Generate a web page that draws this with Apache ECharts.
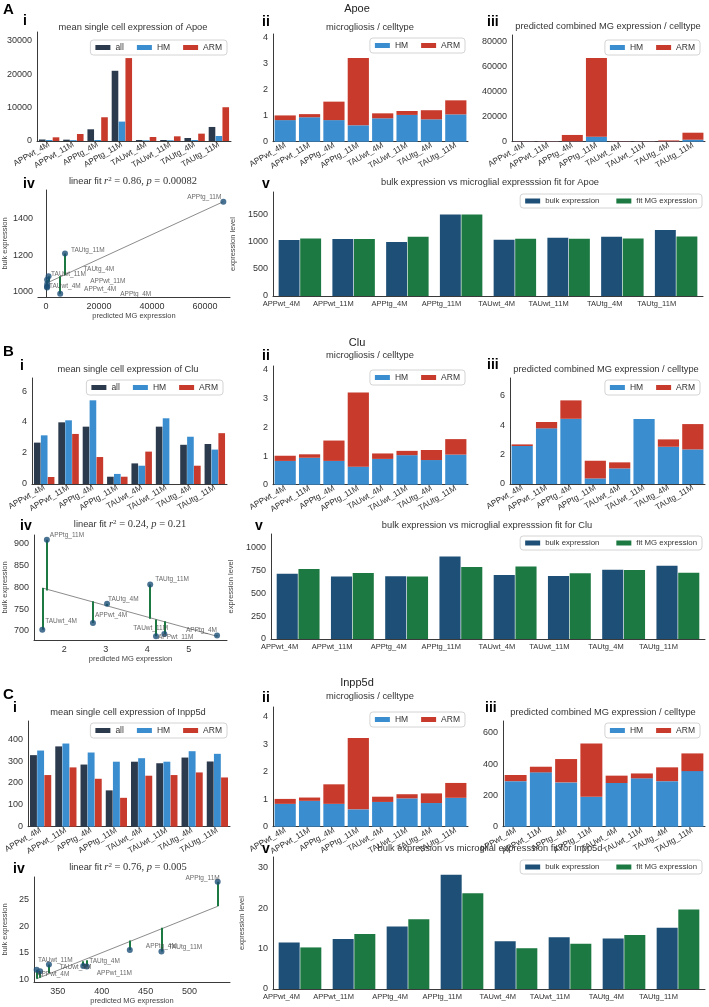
<!DOCTYPE html>
<html>
<head>
<meta charset="utf-8">
<script src="https://cdn.jsdelivr.net/npm/echarts@6/dist/echarts.min.js"></script>
<style>
  html, body { margin: 0; padding: 0; background: #fff; }
  #chart { width: 709px; height: 1007px; }
</style>
</head>
<body>
<div id="chart"></div>
<script>
const categories = ['APPwt_4M', 'APPwt_11M', 'APPtg_4M', 'APPtg_11M', 'TAUwt_4M', 'TAUwt_11M', 'TAUtg_4M', 'TAUtg_11M'];

// microgliosis / celltype (same in all three rows)
const microHM  = [0.83, 0.94, 0.83, 0.63, 0.90, 1.03, 0.86, 1.05];
const microARM = [0.18, 0.12, 0.71, 2.59, 0.19, 0.15, 0.35, 0.54];

// Apoe
const apoeAll     = [450, 400, 3500, 21000, 300, 300, 900, 4200];
const apoeHM      = [300, 250, 300, 5800, 200, 200, 300, 1500];
const apoeARM     = [1100, 2100, 7100, 24800, 1200, 1400, 2200, 10100];
const apoePredHM  = [250, 250, 250, 4000, 200, 250, 250, 1600];
const apoePredARM = [200, 250, 5150, 62900, 230, 210, 770, 5600];
const apoeBulk    = [1024, 1043, 990, 1494, 1030, 1067, 1085, 1210];
const apoeFit     = [1055, 1045, 1085, 1494, 1049, 1049, 1055, 1091];

// Clu
const cluAll     = [2.67, 3.98, 3.70, 0.47, 1.33, 3.70, 2.53, 2.58];
const cluHM      = [3.14, 4.11, 5.40, 0.65, 1.18, 4.24, 3.05, 2.22];
const cluARM     = [0.45, 3.23, 1.74, 0.47, 2.09, 0, 1.18, 3.28];
const cluPredHM  = [2.58, 3.78, 4.43, 0.38, 1.06, 4.41, 2.53, 2.35];
const cluPredARM = [0.11, 0.43, 1.25, 1.20, 0.41, 0, 0.50, 1.72];
const cluBulk    = [718, 688, 690, 908, 703, 693, 762, 806];
const cluFit     = [768, 726, 688, 792, 798, 722, 757, 728];

// Inpp5d
const inppAll     = [327, 367, 284, 166, 297, 290, 316, 298];
const inppHM      = [348, 380, 339, 297, 313, 297, 345, 333];
const inppARM     = [236, 271, 219, 132, 233, 236, 248, 225];
const inppPredHM  = [291, 347, 283, 191, 279, 309, 291, 355];
const inppPredARM = [39, 36, 149, 341, 47, 31, 88, 113];
const inppBulk    = [11.5, 12.4, 15.5, 28.3, 11.8, 12.8, 12.5, 15.2];
const inppFit     = [10.3, 13.6, 17.3, 23.7, 10.1, 11.2, 13.4, 19.7];

// label nudges for the scatter panels (pixels, like adjustText did)
const apoeLabelShift = [[31, 2], [37, -3], [54, 0], [4, -4], [-4, 0], [-2, -5], [29, -7], [0, -3]];
const cluLabelShift  = [[-4, -8], [-4, 1], [6, -5], [-3, -4], [-3, -8], [-37, -6], [-5, -5], [-1, -5]];
const inppLabelShift = [[-9, 3], [4, 7], [10, -4], [8, -4], [17, -3], [-17, -4], [0, -5], [1, -4]];

const W = 709;
const FONT = '"Liberation Sans", Arial, sans-serif';
const C_ALL = '#2b3a4d', C_HM = '#3a8dcf', C_ARM = '#c73a2c';
const C_BULK = '#1d4f77', C_FIT = '#1c7941', C_LINE = '#8c8c8c';
const axisLineStyle = {color: '#3a3a3a', width: 1};

const titles = [], legends = [], grids = [], xAxes = [], yAxes = [], series = [];

function stepFmt(step) {
  return function (v) {
    const k = v / step;
    return Math.abs(k - Math.round(k)) < 1e-6 ? String(Math.round(k) * step) : '';
  };
}

function addText(text, x, y, kind, rich) {
  const st = {
    big:   {fontSize: 15, fontWeight: 'bold', color: '#000'},
    num:   {fontSize: 14, fontWeight: 'bold', color: '#000'},
    gene:  {fontSize: 11, fontWeight: 'normal', color: '#222'},
    title: {fontSize: 9.3, fontWeight: 'normal', color: '#333'}
  }[kind];
  const t = {text: text, left: x, top: y, padding: 0,
    textStyle: Object.assign({fontFamily: FONT}, st)};
  if (kind === 'gene' || kind === 'title') t.textAlign = 'center';
  if (rich) t.textStyle.rich = rich;
  titles.push(t);
}

const SERIF = '"Liberation Serif", serif';
const fitRich = {
  it:  {fontFamily: SERIF, fontStyle: 'italic', fontWeight: 'normal', fontSize: 10.5, color: '#333'},
  rm:  {fontFamily: SERIF, fontWeight: 'normal', fontSize: 10.5, color: '#333'},
  sup: {fontFamily: SERIF, fontWeight: 'normal', fontSize: 7, color: '#333', verticalAlign: 'top'}
};
function fitTitle(r2, p) {
  return 'linear fit {it|r}{sup|2}{rm| = ' + r2 + ', }{it|p}{rm| = ' + p + '}';
}

function addGrid(b) {
  grids.push({left: b.l, top: b.t, width: b.w, height: b.h});
  return grids.length - 1;
}

function catAxis(gi, rotate) {
  xAxes.push({
    type: 'category', gridIndex: gi, data: categories,
    axisLine: {show: true, lineStyle: axisLineStyle}, axisTick: {show: false}, splitLine: {show: false},
    axisLabel: rotate
      ? {interval: 0, rotate: 30, fontSize: 8.2, color: '#333', fontFamily: FONT, margin: 3}
      : {interval: 0, align: 'right', fontSize: 7.5, color: '#333', fontFamily: FONT, margin: 4}
  });
  return xAxes.length - 1;
}

function valAxis(list, gi, min, max, step, extra) {
  const ax = Object.assign({
    type: 'value', gridIndex: gi, min: min, max: max,
    axisLine: {show: true, lineStyle: axisLineStyle}, axisTick: {show: false}, splitLine: {show: false},
    axisLabel: {fontSize: 9, color: '#333', fontFamily: FONT, margin: 5, formatter: stepFmt(step)},
    nameTextStyle: {fontSize: 7.5, color: '#444', fontFamily: FONT}
  }, extra || {});
  list.push(ax);
  return list.length - 1;
}

function addLegend(names, right, top, fs, gap) {
  legends.push({
    data: names, right: W - right, top: top, orient: 'horizontal', selectedMode: false,
    icon: 'rect', itemWidth: 15, itemHeight: 5, itemGap: gap,
    textStyle: {fontSize: fs, color: '#333', fontFamily: FONT},
    borderColor: '#d4d4d4', borderWidth: 1, borderRadius: 3, padding: [3, 5]
  });
}

function groupedPanel(b, vals, yMax, step, lg) {
  const gi = addGrid(b);
  const xi = catAxis(gi, true);
  const yi = valAxis(yAxes, gi, 0, yMax, step, {interval: step});
  [['all', C_ALL], ['HM', C_HM], ['ARM', C_ARM]].forEach(function (s, k) {
    series.push({type: 'bar', name: s[0], xAxisIndex: xi, yAxisIndex: yi, data: vals[k],
      itemStyle: {color: s[1]}, barGap: '4%', barCategoryGap: '16%'});
  });
  addLegend(['all', 'HM', 'ARM'], lg[0], lg[1], 8.5, 13);
}

function stackPanel(b, hm, arm, yMax, step, lg) {
  const gi = addGrid(b);
  const xi = catAxis(gi, true);
  const yi = valAxis(yAxes, gi, 0, yMax, step, {interval: step});
  series.push({type: 'bar', name: 'HM', stack: 's' + gi, xAxisIndex: xi, yAxisIndex: yi, data: hm,
    itemStyle: {color: C_HM}, barCategoryGap: '13%'});
  series.push({type: 'bar', name: 'ARM', stack: 's' + gi, xAxisIndex: xi, yAxisIndex: yi, data: arm,
    itemStyle: {color: C_ARM}, barCategoryGap: '13%'});
  addLegend(['HM', 'ARM'], lg[0], lg[1], 8.5, 13);
}

function fitPanel(b, predHM, predARM, bulk, fit, shift, xr, xstep, yr, ystep, xsplit, ysplit) {
  const gi = addGrid(b);
  const xs = predHM.map(function (v, i) { return v + predARM[i]; });
  const xi = valAxis(xAxes, gi, xr[0], xr[1], xstep, {splitNumber: xsplit,
    name: 'predicted MG expression', nameLocation: 'middle', nameGap: 15});
  const yi = valAxis(yAxes, gi, yr[0], yr[1], ystep, {splitNumber: ysplit,
    name: 'bulk expression', nameLocation: 'middle', nameGap: 25});
  let imin = 0, imax = 0;
  xs.forEach(function (v, i) { if (v < xs[imin]) imin = i; if (v > xs[imax]) imax = i; });
  series.push({type: 'line', xAxisIndex: xi, yAxisIndex: yi, symbol: 'none', silent: true,
    data: [[xs[imin], fit[imin]], [xs[imax], fit[imax]]],
    lineStyle: {color: C_LINE, width: 1}, z: 2});
  series.push({type: 'lines', coordinateSystem: 'cartesian2d', xAxisIndex: xi, yAxisIndex: yi, silent: true,
    data: categories.map(function (c, i) { return {coords: [[xs[i], bulk[i]], [xs[i], fit[i]]]}; }),
    lineStyle: {color: C_FIT, width: 2, opacity: 1}, z: 3});
  series.push({type: 'scatter', xAxisIndex: xi, yAxisIndex: yi, symbolSize: 6, z: 4,
    data: categories.map(function (c, i) {
      return {name: c, value: [xs[i], bulk[i]],
        label: {position: i === imax ? 'left' : 'right', offset: shift[i]}};
    }),
    itemStyle: {color: C_BULK},
    label: {show: true, formatter: '{b}', fontSize: 6.5, color: '#444', fontFamily: FONT, distance: 3}});
}

function compPanel(b, bulk, fit, yMax, step, lg) {
  const gi = addGrid(b);
  const xi = catAxis(gi, false);
  const yi = valAxis(yAxes, gi, 0, yMax, step, {interval: step,
    name: 'expression level', nameLocation: 'middle', nameGap: 27});
  series.push({type: 'bar', name: 'bulk expression', xAxisIndex: xi, yAxisIndex: yi, data: bulk,
    itemStyle: {color: C_BULK}, barGap: '3%', barCategoryGap: '21%'});
  series.push({type: 'bar', name: 'fit MG expression', xAxisIndex: xi, yAxisIndex: yi, data: fit,
    itemStyle: {color: C_FIT}, barGap: '3%', barCategoryGap: '21%'});
  addLegend(['bulk expression', 'fit MG expression'], lg[0], lg[1], 7.8, 17);
}

// ---- row A : Apoe
addText('A', 3, 2, 'big');
addText('Apoe', 357, 3, 'gene');
addText('i', 23, 14, 'num');
addText('mean single cell expression of Apoe', 133, 23, 'title');
addText('ii', 262, 15, 'num');
addText('microgliosis / celltype', 370, 23, 'title');
addText('iii', 487, 15, 'num');
addText('predicted combined MG expression / celltype', 608, 22, 'title');
addText('iv', 23, 177, 'num');
addText(fitTitle('0.86', '0.00082'), 133, 176, 'title', fitRich);
addText('v', 262, 177, 'num');
addText('bulk expression vs microglial expresssion fit for Apoe', 490, 178, 'title');

groupedPanel({l: 37, t: 32, w: 194, h: 109}, [apoeAll, apoeHM, apoeARM], 32600, 10000, [227, 40]);
stackPanel({l: 273, t: 34, w: 195, h: 107.7}, microHM, microARM, 4.14, 1, [465, 38]);
stackPanel({l: 512, t: 35, w: 193, h: 106.7}, apoePredHM, apoePredARM, 85400, 20000, [700, 40]);
fitPanel({l: 37, t: 190, w: 193, h: 107}, apoePredHM, apoePredARM, apoeBulk, apoeFit, apoeLabelShift,
  [-3000, 69400], 20000, [972, 1558], 200, 4, 3);
compPanel({l: 273, t: 192, w: 430, h: 104}, apoeBulk, apoeFit, 1905, 500, [702, 194]);

// ---- row B : Clu
addText('B', 3, 344, 'big');
addText('Clu', 357, 337, 'gene');
addText('i', 20, 359, 'num');
addText('mean single cell expression of Clu', 128, 365, 'title');
addText('ii', 262, 349, 'num');
addText('microgliosis / celltype', 370, 351, 'title');
addText('iii', 487, 358, 'num');
addText('predicted combined MG expression / celltype', 606, 365, 'title');
addText('iv', 20, 519, 'num');
addText(fitTitle('0.24', '0.21'), 130, 519, 'title', fitRich);
addText('v', 255, 519, 'num');
addText('bulk expression vs microglial expresssion fit for Clu', 487, 521, 'title');

groupedPanel({l: 32, t: 378, w: 195, h: 106}, [cluAll, cluHM, cluARM], 6.84, 2, [223, 380]);
stackPanel({l: 273, t: 366, w: 195, h: 118.7}, microHM, microARM, 4.14, 1, [465, 370]);
stackPanel({l: 510, t: 378, w: 195, h: 106}, cluPredHM, cluPredARM, 7.2, 2, [700, 380]);
fitPanel({l: 32, t: 535, w: 195, h: 105}, cluPredHM, cluPredARM, cluBulk, cluFit, cluLabelShift,
  [1.27, 5.92], 1, [679.5, 918.6], 50, 5, 5);
compPanel({l: 271, t: 534, w: 434, h: 105}, cluBulk, cluFit, 1154, 250, [702, 536]);

// ---- row C : Inpp5d
addText('C', 3, 687, 'big');
addText('Inpp5d', 357, 677, 'gene');
addText('i', 13, 701, 'num');
addText('mean single cell expression of Inpp5d', 128, 708, 'title');
addText('ii', 262, 691, 'num');
addText('microgliosis / celltype', 370, 692, 'title');
addText('iii', 485, 701, 'num');
addText('predicted combined MG expression / celltype', 603, 708, 'title');
addText('iv', 13, 862, 'num');
addText(fitTitle('0.76', '0.005'), 128, 862, 'title', fitRich);
addText('v', 262, 842, 'num');
addText('bulk expression vs microglial expresssion fit for Inpp5d', 490, 844, 'title');

groupedPanel({l: 28, t: 721, w: 202, h: 105.7}, [inppAll, inppHM, inppARM], 483, 100, [227, 723]);
stackPanel({l: 273, t: 707, w: 195, h: 119.7}, microHM, microARM, 4.35, 1, [465, 712]);
stackPanel({l: 503, t: 721, w: 202, h: 105.7}, inppPredHM, inppPredARM, 675, 200, [700, 723]);
fitPanel({l: 32, t: 877, w: 198, h: 105}, inppPredHM, inppPredARM, inppBulk, inppFit, inppLabelShift,
  [323, 546], 50, [9.5, 29.2], 5, 4, 4);
compPanel({l: 273, t: 857, w: 432, h: 132}, inppBulk, inppFit, 32.7, 10, [702, 860]);

const chart = echarts.init(document.getElementById('chart'), null, {renderer: 'canvas'});
chart.setOption({
  animation: false,
  backgroundColor: '#fff',
  textStyle: {fontFamily: FONT},
  title: titles,
  legend: legends,
  grid: grids,
  xAxis: xAxes,
  yAxis: yAxes,
  series: series
});
</script>
</body>
</html>
